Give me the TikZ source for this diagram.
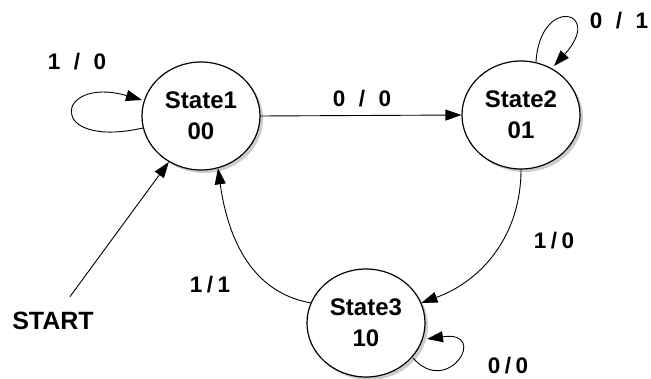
\documentclass[tikz,border=0pt]{standalone}
\usepackage{fontspec}
\setmainfont{Liberation Sans}
\usetikzlibrary{shapes.geometric,arrows.meta,shadows,calc}
\begin{document}
\begin{tikzpicture}[x=1pt,y=-1pt,
  state/.style={ellipse,draw,line width=1.2pt,fill=white,minimum width=118pt,minimum height=108pt,
    align=center,font=\bfseries\fontsize{24}{31}\selectfont,
    drop shadow={opacity=0.4,shadow xshift=3pt,shadow yshift=-3pt}},
  lbl/.style={font=\bfseries\fontsize{22.5}{24}\selectfont},
  edge/.style={line width=0.9pt,-{Triangle[length=16pt,width=11pt]}}]
\useasboundingbox (0,0) rectangle (651,379);
\node[state] (s1) at (201,116) {State1\\00};
\node[state] (s2) at (521,115) {State2\\01};
\node[state] (s3) at (366,323) {State3\\10};
\node[font=\bfseries\fontsize{25}{28}\selectfont] (start) at (53,321) {START};
\coordinate (l1a) at (143,128);
\coordinate (l1b) at (142,100);
\coordinate (l2a) at (536,62);
\coordinate (l2b) at (554,66);
\coordinate (l3a) at (413,358);
\coordinate (l3b) at (427,339);
\coordinate (st) at ($(start.north)+(17,-12)$);
\draw[edge] (l1a) .. controls (45,150) and (55,75) .. (l1b);
\draw[edge] (l2a) .. controls (540,-5) and (605,10) .. (l2b);
\draw[edge] (l3a) .. controls (448,398) and (490,330) .. (l3b);
\draw[edge] (s1.east) -- (s2.west);
\draw[edge] (s2.south) to[out=-90,in=20] (s3.20);
\draw[edge] (s3.160) to[out=170,in=-82] (s1.-72);
\draw[edge] (st) -- (s1.-125);
\node[lbl] (t1) at (77,62) {1\hspace{0.6em}/\hspace{0.6em}0};
\node[lbl] (t2) at (362,99) {0\hspace{0.6em}/\hspace{0.6em}0};
\node[lbl] (t3) at (619,21) {0\hspace{0.6em}/\hspace{0.6em}1};
\node[lbl] (t4) at (554,241) {1\hspace{0.2em}/\hspace{0.2em}0};
\node[lbl] (t5) at (210,285) {1\hspace{0.2em}/\hspace{0.2em}1};
\node[lbl] (t6) at (508,366) {0\hspace{0.2em}/\hspace{0.2em}0};
\end{tikzpicture}
\end{document}
